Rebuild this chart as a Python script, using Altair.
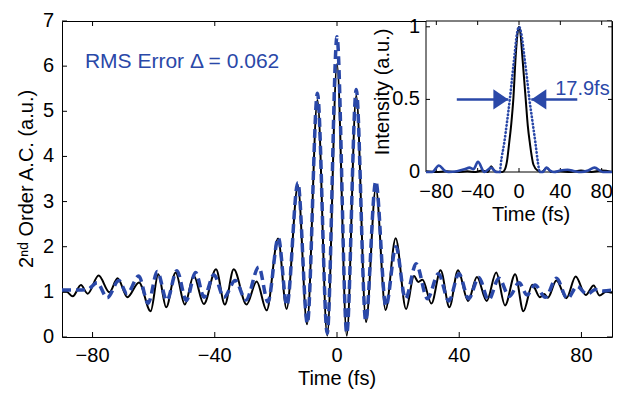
import altair as alt
import pandas as pd

# ---------------- main autocorrelation traces ----------------
black_t = [-90, -88.5, -86.5, -83.8, -81.6, -78.0, -74.5, -71.8, -68.6, -64.8, -61.0, -58.5,
           -55.9, -52.8, -49.8, -46.9, -43.6, -39.6, -36.7, -33.8, -29.6, -26.3, -23.0, -19.3,
           -16.5, -12.8, -9.8, -6.4, -3.2, 0, 3.2, 6.3, 9.5, 12.7, 15.9, 19.2, 22.6, 25.2,
           26.6, 28.0, 30.9, 33.9, 36.8, 39.6, 42.9, 45.8, 49.0, 52.1, 55.0, 58.3, 61.0,
           63.9, 66.4, 67.8, 69.0, 71.8, 75.1, 78.1, 81.4, 84.0, 85.9, 88.0, 90.0]
black_v = [1.00, 1.00, 0.90, 1.15, 0.96, 1.36, 0.99, 1.30, 0.88, 1.21, 0.57, 1.39,
           0.66, 1.43, 0.72, 1.36, 0.73, 1.50, 0.72, 1.50, 0.72, 1.23, 0.59, 2.18,
           0.62, 3.35, 0.28, 5.25, 0.03, 6.05, 0.03, 5.35, 0.33, 3.30, 0.60, 2.19, 0.62, 1.35,
           1.22, 1.27, 0.74, 1.48, 0.66, 1.48, 0.80, 1.33, 0.80, 1.43, 0.70, 1.39, 0.57,
           1.16, 0.88, 0.95, 0.87, 1.25, 0.86, 1.34, 0.93, 1.14, 0.92, 1.00, 0.98]

blue_t = [-90, -84.5, -81.5, -78.5, -75.2, -71.4, -68.7, -64.9, -61.8, -58.8, -55.7, -52.4,
          -49.3, -46.3, -43.5, -40.3, -37.0, -33.3, -29.8, -25.6, -22.6, -19.2, -16.4, -12.8,
          -9.7, -6.4, -3.2, 0, 3.2, 6.3, 9.4, 12.7, 16.0, 19.3, 22.4, 25.9, 29.6, 33.2, 36.6,
          39.9, 43.1, 46.4, 49.6, 53.0, 56.4, 59.6, 62.2, 64.8, 68.2, 71.8, 75.4, 78.6, 81.8,
          84.6, 87.0, 90.0]
blue_v = [1.04, 1.04, 1.06, 1.20, 0.87, 1.25, 0.96, 1.35, 0.75, 1.45, 0.81, 1.47,
          0.81, 1.43, 0.88, 1.38, 0.88, 1.25, 0.82, 1.55, 0.78, 2.20, 0.70, 3.42,
          0.30, 5.40, 0.08, 6.65, 0.08, 5.48, 0.36, 3.45, 0.68, 2.00, 0.85, 1.62, 0.85, 1.40, 0.80,
          1.40, 0.85, 1.32, 0.82, 1.30, 0.90, 1.20, 0.93, 1.15, 0.88, 1.30, 0.85, 1.12, 0.95,
          1.05, 1.02, 1.04]

x_domain = [-90, 90]
y_domain = [0, 7]
x_ticks = [-80, -40, 0, 40, 80]
x_tick_labels = ["\u221280", "\u221240", "0", "40", "80"]
y_ticks = [0, 1, 2, 3, 4, 5, 6, 7]
y_tick_labels = ["0", "1", "2", "3", "4", "5", "6", "7"]
x_title = ["Time (fs)"]
y_title = ["2\u207f\u1d48 Order A.C. (a.u.)"]

rms_label = ["RMS Error \u0394 = 0.062"]
rms_t = [-82.5]
rms_v = [5.96]

# ---------------- inset: temporal intensity ----------------
in_black_t = [-90, -80, -70, -60, -50, -42, -36, -30, -27, -24, -20, -16, -13.5, -11.5, -9.5,
              -7.5, -5.5, -3.2, -1.5, 0, 1.5, 3.2, 6.5, 8.5, 10.5, 14, 18, 22, 27, 31, 40,
              50, 60, 70, 80, 90]
in_black_v = [0.005, 0.0, 0.005, 0.0, 0.005, 0.0, 0.01, 0.0, 0.04, 0.01, 0.0, 0.0, 0.02, 0.08, 0.2,
              0.33, 0.5, 0.8, 0.95, 1.0, 0.95, 0.8, 0.5, 0.32, 0.2, 0.05, 0.01, 0.0, 0.03, 0.0, 0.005,
              0.0, 0.01, 0.0, 0.01, 0.0]

in_blue_t = [-90, -84, -77.6, -72, -68, -60, -52, -48, -44, -39.7, -33.5, -27, -22, -18.4,
             -17.5, -14.3, -11.5, -8.9, -6.5, -4.4, -2, 0, 2.3, 5.1, 7.5, 10.1, 13, 15.9, 18.4,
             19.7, 23, 26.5, 30, 34, 40, 47, 54, 60, 67, 73, 81, 90]
in_blue_v = [0.0, 0.0, 0.045, 0.01, 0.0, 0.005, 0.02, 0.03, 0.02, 0.07, 0.0, 0.03, 0.0, 0.0,
             0.06, 0.2, 0.35, 0.5, 0.66, 0.8, 0.95, 1.0, 0.95, 0.8, 0.66, 0.5, 0.35, 0.2, 0.06,
             0.0, 0.0, 0.03, 0.01, 0.0, 0.01, 0.015, 0.005, 0.0, 0.01, 0.03, 0.0, 0.0]

in_x_domain = [-90, 90]
in_y_domain = [0, 1.04]
in_x_ticks = [-80, -40, 0, 40, 80]
in_x_tick_labels = ["\u221280", "\u221240", "0", "40", "80"]
in_y_ticks = [0, 0.5, 1]
in_y_tick_labels = ["0", "0.5", "1"]
in_x_title = ["Time (fs)"]
in_y_title = ["Intensity (a.u.)"]

arrow_from = [-60.2, 56.4]
arrow_to = [-10.3, 11.9]
arrow_level = [0.5, 0.5]
fwhm_label = ["17.9fs"]
fwhm_t = [35.0]
fwhm_v = [0.53]

# ---------------- styling / geometry ----------------
BLUE = "#2a48a8"
FONT = "Liberation Sans"
W, H = 550, 316
IN_X0, IN_X1 = 364, 550
IN_Y0 = 151
FS = 20

xs = alt.Scale(domain=x_domain, nice=False, zero=False)
ys = alt.Scale(domain=y_domain, nice=False, zero=False)
ixs = alt.Scale(domain=in_x_domain, range=[IN_X0, IN_X1], nice=False, zero=False)
iys = alt.Scale(domain=in_y_domain, range=[IN_Y0, 0], nice=False, zero=False)


def X(field, scale):
    return alt.X(field, scale=scale, axis=None)


def Y(field, scale):
    return alt.Y(field, scale=scale, axis=None)


df_black = pd.DataFrame({"t": black_t, "v": black_v})
df_blue = pd.DataFrame({"t": blue_t, "v": blue_v})
df_xt = pd.DataFrame({"t": x_ticks, "label": x_tick_labels})
df_yt = pd.DataFrame({"v": y_ticks, "label": y_tick_labels})
df_rms = pd.DataFrame({"t": rms_t, "v": rms_v, "label": rms_label})

black = alt.Chart(df_black).mark_line(color="black", strokeWidth=2, interpolate="monotone").encode(
    x=X("t:Q", xs), y=Y("v:Q", ys))
blue = alt.Chart(df_blue).mark_line(color=BLUE, strokeWidth=3.5, strokeDash=[9, 5],
                                    interpolate="monotone").encode(x=X("t:Q", xs), y=Y("v:Q", ys))
rms = alt.Chart(df_rms).mark_text(align="left", baseline="alphabetic", fontSize=21, font=FONT,
                                  color=BLUE).encode(x=X("t:Q", xs), y=Y("v:Q", ys), text="label:N")

rule_style = dict(color="black", strokeWidth=1)
xt_bot = alt.Chart(df_xt).mark_rule(**rule_style).encode(
    x=X("t:Q", xs), y=alt.value(H), y2=alt.value(H - 5))
xt_top = alt.Chart(df_xt).mark_rule(**rule_style).encode(
    x=X("t:Q", xs), y=alt.value(0), y2=alt.value(5))
yt_l = alt.Chart(df_yt).mark_rule(**rule_style).encode(
    y=Y("v:Q", ys), x=alt.value(0), x2=alt.value(5))
yt_r = alt.Chart(df_yt).mark_rule(**rule_style).encode(
    y=Y("v:Q", ys), x=alt.value(W), x2=alt.value(W - 5))

text_style = dict(font=FONT, fontSize=FS, color="black")
xl = alt.Chart(df_xt).mark_text(baseline="top", align="center", **text_style).encode(
    x=X("t:Q", xs), y=alt.value(H + 9), text="label:N")
yl = alt.Chart(df_yt).mark_text(baseline="middle", align="right", **text_style).encode(
    y=Y("v:Q", ys), x=alt.value(-8), text="label:N")
xtitle = alt.Chart(pd.DataFrame({"label": x_title})).mark_text(
    baseline="top", align="center", **text_style).encode(
    x=alt.value(W / 2), y=alt.value(H + 32), text="label:N")
ytitle = alt.Chart(pd.DataFrame({"label": y_title})).mark_text(
    baseline="bottom", align="center", angle=270, **text_style).encode(
    x=alt.value(-25), y=alt.value(H / 2), text="label:N")

main = alt.layer(black, xt_bot, xt_top, yt_l, yt_r, blue, rms, xl, yl, xtitle, ytitle)

# ---------------- inset ----------------
df_ib = pd.DataFrame({"t": in_black_t, "v": in_black_v})
df_iu = pd.DataFrame({"t": in_blue_t, "v": in_blue_v})
df_frame = pd.DataFrame({"t": [in_x_domain[0]], "t2": [in_x_domain[1]],
                         "v": [in_y_domain[0]], "v2": [in_y_domain[1]]})
df_arrow = pd.DataFrame({"t": arrow_from, "t2": arrow_to, "v": arrow_level})
df_fwhm = pd.DataFrame({"t": fwhm_t, "v": fwhm_v, "label": fwhm_label})
df_ixt = pd.DataFrame({"t": in_x_ticks, "label": in_x_tick_labels})
df_iyt = pd.DataFrame({"v": in_y_ticks, "label": in_y_tick_labels})

frame = alt.Chart(df_frame).mark_rect(fill="white", stroke="black", strokeWidth=1).encode(
    x=X("t:Q", ixs), x2="t2:Q", y=Y("v:Q", iys), y2="v2:Q")
ib = alt.Chart(df_ib).mark_line(color="black", strokeWidth=2, interpolate="monotone").encode(
    x=X("t:Q", ixs), y=Y("v:Q", iys))
iu_left = alt.Chart(df_iu).transform_filter(alt.datum.t <= -18.4).mark_line(
    color=BLUE, strokeWidth=2.6, interpolate="monotone").encode(x=X("t:Q", ixs), y=Y("v:Q", iys))
iu_right = alt.Chart(df_iu).transform_filter(alt.datum.t >= 19.7).mark_line(
    color=BLUE, strokeWidth=2.6, interpolate="monotone").encode(x=X("t:Q", ixs), y=Y("v:Q", iys))
iu_mid = alt.Chart(df_iu).transform_filter((alt.datum.t >= -18.4) & (alt.datum.t <= 19.7)).mark_line(
    color=BLUE, strokeWidth=2.6, strokeDash=[0.5, 3.1], strokeCap="round",
    interpolate="monotone").encode(x=X("t:Q", ixs), y=Y("v:Q", iys))

arrows = alt.Chart(df_arrow).mark_rule(color=BLUE, strokeWidth=2.5).encode(
    x=X("t:Q", ixs), x2="t2:Q", y=Y("v:Q", iys))
head_r = alt.Chart(df_arrow.iloc[[0]]).mark_point(
    shape="M 0 0 L -1 -0.67 L -1 0.67 Z", filled=True, size=900, color=BLUE, opacity=1).encode(
    x=X("t2:Q", ixs), y=Y("v:Q", iys))
head_l = alt.Chart(df_arrow.iloc[[1]]).mark_point(
    shape="M 0 0 L 1 -0.67 L 1 0.67 Z", filled=True, size=900, color=BLUE, opacity=1).encode(
    x=X("t2:Q", ixs), y=Y("v:Q", iys))
fwhm = alt.Chart(df_fwhm).mark_text(align="left", baseline="alphabetic", fontSize=20, font=FONT,
                                    color=BLUE).encode(x=X("t:Q", ixs), y=Y("v:Q", iys), text="label:N")

ixt_bot = alt.Chart(df_ixt).mark_rule(**rule_style).encode(
    x=X("t:Q", ixs), y=alt.value(IN_Y0), y2=alt.value(IN_Y0 - 4))
ixt_top = alt.Chart(df_ixt).mark_rule(**rule_style).encode(
    x=X("t:Q", ixs), y=alt.value(0), y2=alt.value(4))
iyt_l = alt.Chart(df_iyt).mark_rule(**rule_style).encode(
    y=Y("v:Q", iys), x=alt.value(IN_X0), x2=alt.value(IN_X0 + 4))
iyt_r = alt.Chart(df_iyt).mark_rule(**rule_style).encode(
    y=Y("v:Q", iys), x=alt.value(IN_X1), x2=alt.value(IN_X1 - 4))

ixl = alt.Chart(df_ixt).mark_text(baseline="top", align="center", **text_style).encode(
    x=X("t:Q", ixs), y=alt.value(IN_Y0 + 10), text="label:N")
iyl = alt.Chart(df_iyt).mark_text(baseline="middle", align="right", **text_style).encode(
    y=Y("v:Q", iys), x=alt.value(IN_X0 - 6), text="label:N")
ixtitle = alt.Chart(pd.DataFrame({"label": in_x_title})).mark_text(
    baseline="top", align="center", **text_style).encode(
    x=alt.value(IN_X0 + 105), y=alt.value(IN_Y0 + 33), text="label:N")
iytitle = alt.Chart(pd.DataFrame({"label": in_y_title})).mark_text(
    baseline="bottom", align="center", angle=270, **text_style).encode(
    x=alt.value(IN_X0 - 33), y=alt.value(71), text="label:N")

inset = alt.layer(frame, ixt_bot, ixt_top, iyt_l, iyt_r, ib, iu_left, iu_right, iu_mid,
                  arrows, head_r, head_l, fwhm, ixl, iyl, ixtitle, iytitle)

chart = alt.layer(main, inset).resolve_scale(
    x="independent", y="independent").properties(
    width=W, height=H,
    autosize=alt.AutoSizeParams(type="none"),
    padding={"left": 54, "top": 13, "right": 1, "bottom": 57},
    background="white",
).configure_view(stroke="black", strokeWidth=1)

chart.save("out.html", embed_options={"renderer": "svg", "actions": False})
